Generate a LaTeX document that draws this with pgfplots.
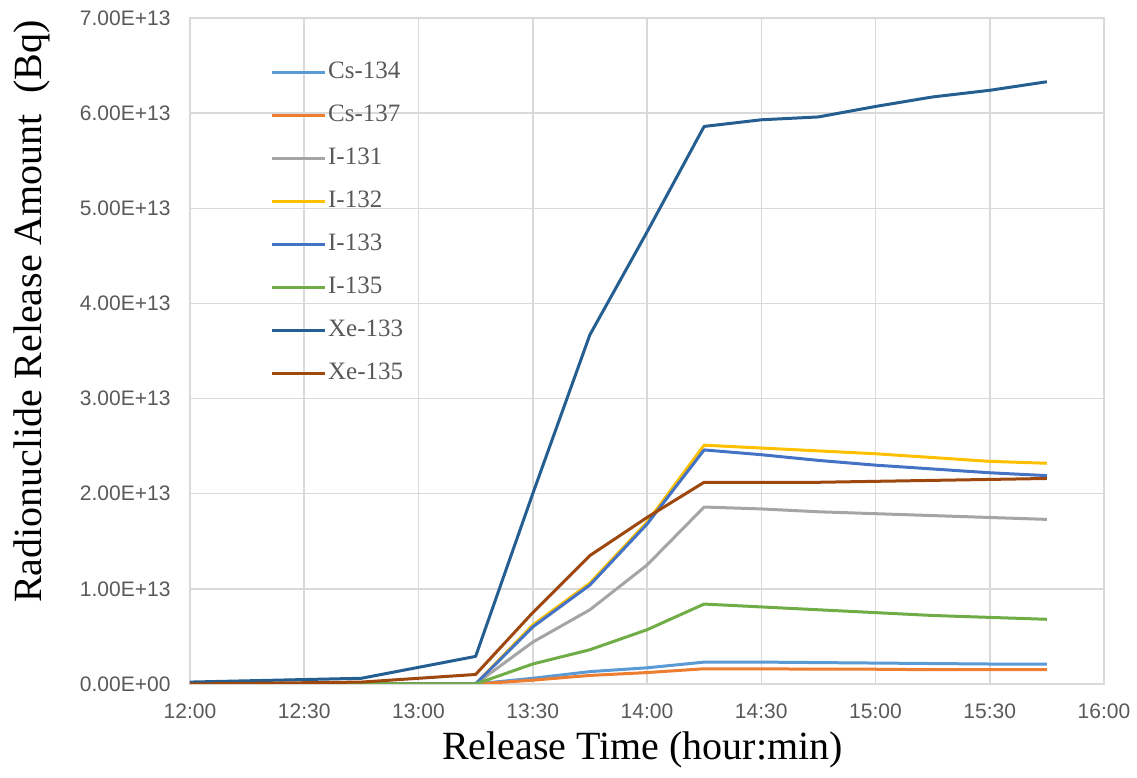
\documentclass[border=0pt]{standalone}
\usepackage{pgfplots}
\pgfplotsset{compat=1.18}
\usepackage{fontspec}
\setmainfont{Liberation Serif}
\newfontfamily\tickfont{Liberation Sans}
\definecolor{cCsA}{HTML}{5B9BD5}
\definecolor{cCsB}{HTML}{ED7D31}
\definecolor{cIA}{HTML}{A5A5A5}
\definecolor{cIB}{HTML}{FFC000}
\definecolor{cIC}{HTML}{4472C4}
\definecolor{cID}{HTML}{70AD47}
\definecolor{cXeA}{HTML}{255E91}
\definecolor{cXeB}{HTML}{9E480E}
\definecolor{gridc}{HTML}{D9D9D9}
\definecolor{txt}{HTML}{595959}
\begin{document}
\begin{tikzpicture}
\begin{axis}[
  scale only axis, width=914bp, height=666bp,
  xmin=0, xmax=240, ymin=0, ymax=7e13,
  xtick={0,30,...,240},
  xticklabels={12:00,12:30,13:00,13:30,14:00,14:30,15:00,15:30,16:00},
  ytick={0,1e13,2e13,3e13,4e13,5e13,6e13,7e13},
  yticklabels={0.00E+00,1.00E+13,2.00E+13,3.00E+13,4.00E+13,5.00E+13,6.00E+13,7.00E+13},
  scaled y ticks=false,
  grid=major, major grid style={gridc, line width=1.5bp},
  axis line style={gridc, line width=1.5bp},
  major tick length=0pt,
  tick label style={font=\tickfont\fontsize{21bp}{24bp}\selectfont, text=txt},
  xticklabel style={yshift=-16bp},
  yticklabel style={xshift=-16bp},
  xlabel={Release Time (hour:min)},
  ylabel={Radionuclide Release Amount\ \ (Bq)},
  label style={font=\fontsize{40bp}{44bp}\selectfont, text=black},
  xlabel style={at={(axis description cs:0.495,-0.099)}, anchor=center},
  ylabel style={at={(axis description cs:-0.173,0.559)}, anchor=center, rotate=0},
  legend style={draw=none, fill=none, at={(axis description cs:0.0875,0.938)}, anchor=north west,
    font=\fontsize{25bp}{28bp}\selectfont, text=txt, inner sep=0pt, row sep=16bp,
    nodes={text height=17bp, text depth=6bp, inner sep=2bp}},
  legend cell align=left,
  legend image code/.code={\draw[#1, line width=3bp] (0bp,0bp) -- (53bp,0bp);},
  every axis plot/.append style={line width=3bp, line join=round, mark=none},
]
\addplot[cCsA] coordinates {(0,0) (45,0) (75,0) (90,0.06e13) (105,0.13e13) (120,0.17e13) (135,0.23e13) (150,0.23e13) (165,0.225e13) (180,0.22e13) (195,0.215e13) (210,0.21e13) (225,0.21e13)};
\addlegendentry{Cs-134}
\addplot[cCsB] coordinates {(0,0) (45,0) (75,0) (90,0.04e13) (105,0.09e13) (120,0.12e13) (135,0.16e13) (150,0.16e13) (165,0.155e13) (180,0.155e13) (195,0.15e13) (210,0.15e13) (225,0.15e13)};
\addlegendentry{Cs-137}
\addplot[cIA] coordinates {(0,0) (45,0) (75,0) (90,0.44e13) (105,0.78e13) (120,1.25e13) (135,1.86e13) (150,1.84e13) (165,1.81e13) (180,1.79e13) (195,1.77e13) (210,1.75e13) (225,1.73e13)};
\addlegendentry{I-131}
\addplot[cIB] coordinates {(0,0) (45,0) (75,0) (90,0.62e13) (105,1.06e13) (120,1.70e13) (135,2.51e13) (150,2.48e13) (165,2.45e13) (180,2.42e13) (195,2.38e13) (210,2.34e13) (225,2.32e13)};
\addlegendentry{I-132}
\addplot[cIC] coordinates {(0,0) (45,0) (75,0) (90,0.60e13) (105,1.04e13) (120,1.68e13) (135,2.46e13) (150,2.41e13) (165,2.35e13) (180,2.30e13) (195,2.26e13) (210,2.22e13) (225,2.19e13)};
\addlegendentry{I-133}
\addplot[cID] coordinates {(0,0) (45,0) (75,0) (90,0.21e13) (105,0.36e13) (120,0.57e13) (135,0.84e13) (150,0.81e13) (165,0.78e13) (180,0.75e13) (195,0.72e13) (210,0.70e13) (225,0.68e13)};
\addlegendentry{I-135}
\addplot[cXeA] coordinates {(0,0.02e13) (45,0.06e13) (75,0.29e13) (90,2.0e13) (105,3.67e13) (120,4.75e13) (135,5.86e13) (150,5.93e13) (165,5.96e13) (180,6.07e13) (195,6.17e13) (210,6.24e13) (225,6.33e13)};
\addlegendentry{Xe-133}
\addplot[cXeB] coordinates {(0,0) (45,0.02e13) (75,0.10e13) (90,0.75e13) (105,1.35e13) (120,1.75e13) (135,2.12e13) (150,2.12e13) (165,2.12e13) (180,2.13e13) (195,2.14e13) (210,2.15e13) (225,2.16e13)};
\addlegendentry{Xe-135}
\end{axis}
\pgfresetboundingbox
\path ([xshift=-190bp,yshift=-94bp]current axis.south west) rectangle ([xshift=33bp,yshift=18bp]current axis.north east);
\end{tikzpicture}
\end{document}
